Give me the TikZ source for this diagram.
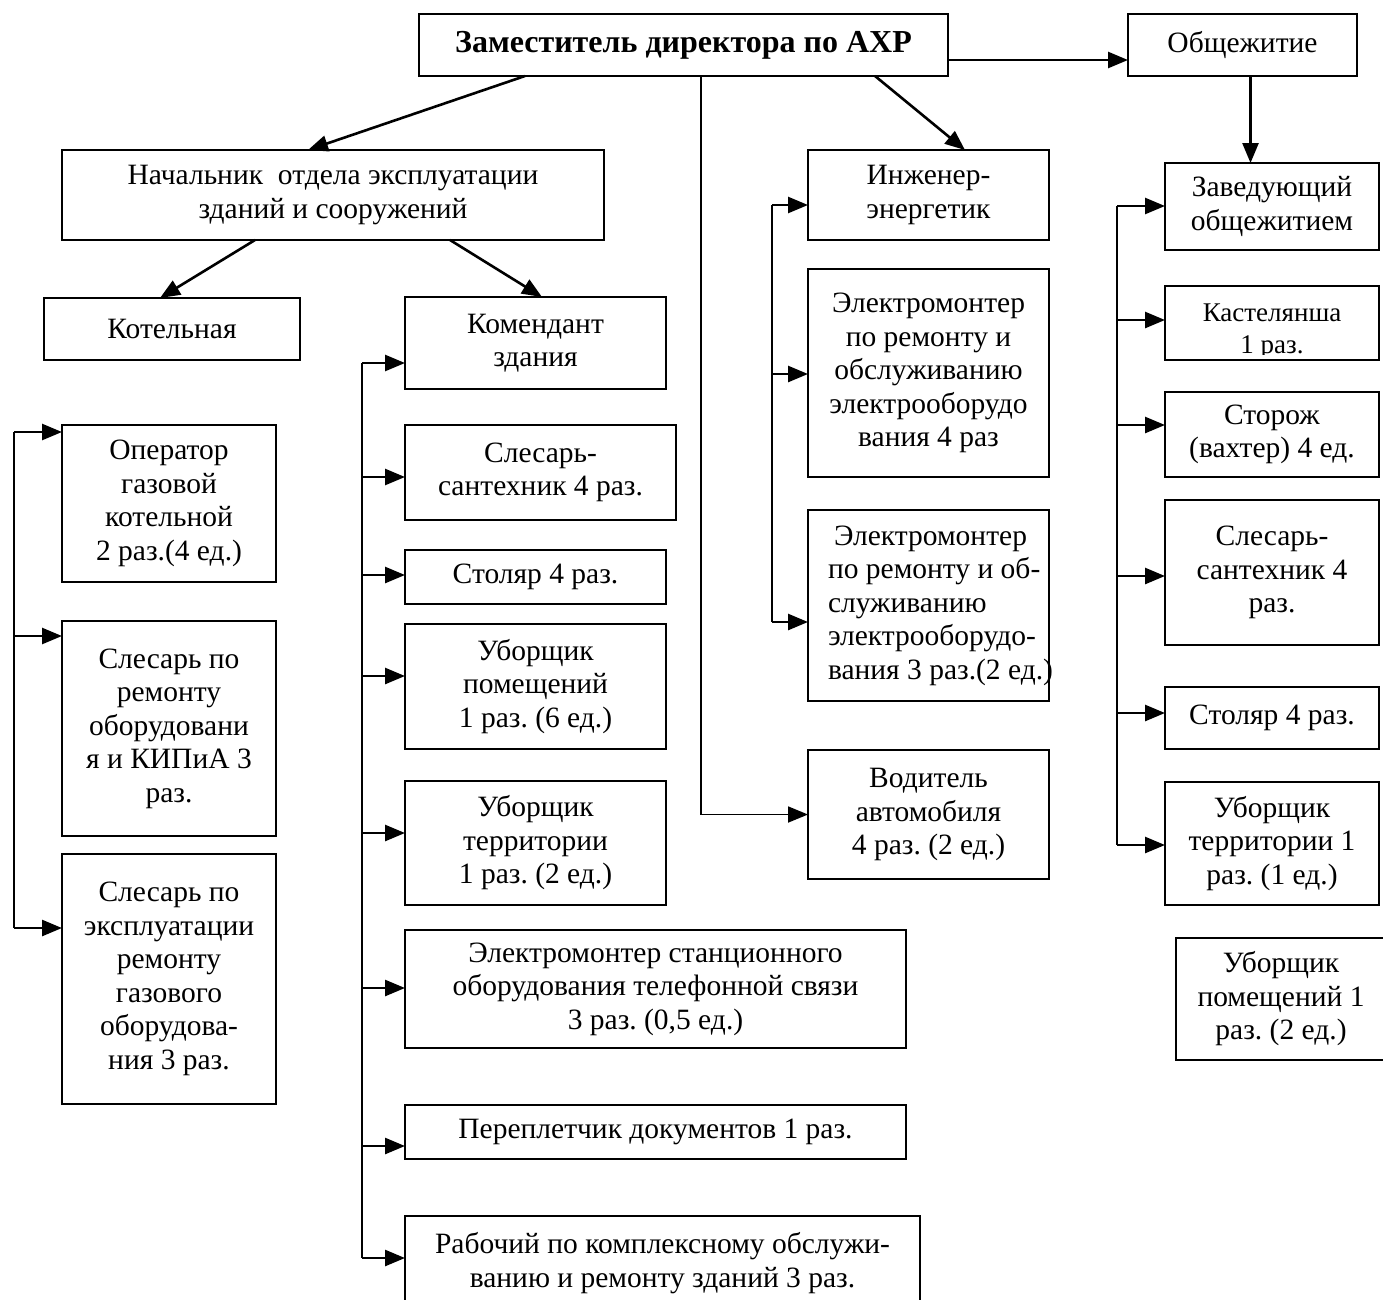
\documentclass[tikz,border=0pt]{standalone}
\usepackage{fontspec}
\setmainfont{Liberation Serif}
\usetikzlibrary{arrows.meta,calc}
\frenchspacing
\newcommand\bx[7][]{\node[box,anchor=north west,minimum width=#5pt-#3pt,minimum height=#6pt-#4pt,#1] (#2) at (#3,#4) {#7};}
\begin{document}
\begin{tikzpicture}[x=1pt,y=-1pt,
  box/.style={draw,line width=1.8pt,inner sep=0pt,outer sep=0pt,align=center,font=\fontsize{29.5}{33.5}\selectfont},
  arr/.style={line width=2.6pt,-{Triangle[length=20pt,width=16pt]}},
  ln/.style={line width=2pt}]
\fill[white] (0,0) rectangle (1383,1299);
\useasboundingbox (0,0) rectangle (1383,1299);
% boxes
\bx[font=\fontsize{32}{36}\selectfont\bfseries]{zam}{419}{14}{948}{76}{Заместитель директора по АХР}
\bx{obsh}{1128}{14}{1357}{76}{Общежитие}
\bx{nach}{62}{150}{604}{240}{Начальник\ \ отдела эксплуатации\\зданий и сооружений}
\bx{ing}{808}{150}{1049}{240}{Инженер-\\энергетик}
\bx{kot}{44}{298}{300}{360}{Котельная}
\bx{kom}{405}{297}{666}{389}{Комендант\\здания}
\bx{oper}{62}{425}{276}{582}{Оператор\\газовой\\котельной\\2 раз.(4 ед.)}
\bx{slrem}{62}{621}{276}{836}{Слесарь по\\ремонту\\оборудовани\\я и КИПиА 3\\раз.}
\bx{slexp}{62}{854}{276}{1104}{Слесарь по\\эксплуатации\\ремонту\\газового\\оборудова-\\ния 3 раз.}
\bx{santeh}{405}{425}{676}{520}{Слесарь-\\сантехник 4 раз.}
\bx{stol}{405}{550}{666}{604}{Столяр 4 раз.}
\bx{ubpom}{405}{624}{666}{749}{Уборщик\\помещений\\1 раз. (6 ед.)}
\bx{ubter}{405}{781}{666}{905}{Уборщик\\территории\\1 раз. (2 ед.)}
\bx{elst}{405}{930}{906}{1048}{Электромонтер станционного\\оборудования телефонной связи\\3 раз. (0,5 ед.)}
\bx{perepl}{405}{1105}{906}{1159}{Переплетчик документов 1 раз.}
\bx{rab}{405}{1216}{920}{1310}{Рабочий по комплексному обслужи-\\ванию и ремонту зданий 3 раз.}
\bx{el4}{808}{269}{1049}{477}{Электромонтер\\по ремонту и\\обслуживанию\\электрооборудо\\вания 4 раз}
\bx{el3}{808}{510}{1049}{701}{\hspace*{20pt}\begin{minipage}[c]{221pt}\raggedright\mbox{\hspace*{6pt}Электромонтер}\\\mbox{по ремонту и об-}\\\mbox{служиванию}\\\mbox{электрооборудо-}\\\mbox{вания 3 раз.(2 ед.)}\end{minipage}}
\bx{vod}{808}{750}{1049}{879}{Водитель\\автомобиля\\4 раз. (2 ед.)}
\bx{zav}{1165}{163}{1379}{250}{Заведующий\\общежитием}
\bx{kast}{1165}{286}{1379}{360}{}
\node[align=center,inner sep=0pt,font=\fontsize{27}{32}\selectfont] (kasttxt) at ($(kast.center)+(0,9)$) {Кастелянша\\1 раз.};
\fill[white] ($(kast.south west)+(2,-5)$) rectangle ($(kast.south east)+(-2,-1)$);
\fill[white] ($(kast.south west)+(-1,1)$) rectangle ($(kast.south east)+(1,14)$);
\bx{stor}{1165}{392}{1379}{477}{Сторож\\(вахтер) 4 ед.}
\bx{santeh2}{1165}{500}{1379}{645}{Слесарь-\\сантехник 4\\раз.}
\bx{stol2}{1165}{687}{1379}{749}{Столяр 4 раз.}
\bx{ubter2}{1165}{782}{1379}{905}{Уборщик\\территории 1\\раз. (1 ед.)}
\bx{ubpom2}{1176}{938}{1386}{1060}{Уборщик\\помещений 1\\раз. (2 ед.)}
% top connectors
\draw[arr] ($(zam.south east)+(0,-16)$) -- ($(obsh.south west)+(0,-16)$);
\coordinate (o1) at ($(obsh.south)+(8,0)$);
\draw[arr] (o1) -- (o1 |- zav.north);
\draw[arr] ($(zam.south west)+(106,0)$) -- ($(nach.north west)+(246,0)$);
\draw[arr] ($(zam.south west)+(456,0)$) -- ($(ing.north west)+(157,0)$);
\draw[arr] ($(nach.south west)+(193,0)$) -- ($(kot.north west)+(116,0)$);
\draw[arr] ($(nach.south west)+(388,0)$) -- ($(kom.north west)+(137,0)$);
\coordinate (v0) at ($(zam.south west)+(282,0)$);
\draw[line width=1.8pt,-{Triangle[length=20pt,width=16pt]}] (v0) |- (vod.west);
% left group
\coordinate (a1) at (14,432);
\coordinate (a2) at (14,636);
\coordinate (a3) at (14,928);
\draw[ln] (a1) -- (a3);
\draw[arr] (a1) -- (a1 -| oper.west);
\draw[arr] (a2) -- (a2 -| slrem.west);
\draw[arr] (a3) -- (a3 -| slexp.west);
% komendant group
\coordinate (b1) at (362,363);
\coordinate (b2) at (362,477);
\coordinate (b3) at (362,575);
\coordinate (b4) at (362,676);
\coordinate (b5) at (362,833);
\coordinate (b6) at (362,988);
\coordinate (b7) at (362,1146);
\coordinate (b8) at (362,1258);
\draw[ln] (b1) -- (b8);
\draw[arr] (b1) -- (b1 -| kom.west);
\draw[arr] (b2) -- (b2 -| santeh.west);
\draw[arr] (b3) -- (b3 -| stol.west);
\draw[arr] (b4) -- (b4 -| ubpom.west);
\draw[arr] (b5) -- (b5 -| ubter.west);
\draw[arr] (b6) -- (b6 -| elst.west);
\draw[arr] (b7) -- (b7 -| perepl.west);
\draw[arr] (b8) -- (b8 -| rab.west);
% engineer group
\coordinate (c1) at (772,205);
\coordinate (c2) at (772,374);
\coordinate (c3) at (772,622);
\draw[ln] (c1) -- (c3);
\draw[arr] (c1) -- (c1 -| ing.west);
\draw[arr] (c2) -- (c2 -| el4.west);
\draw[arr] (c3) -- (c3 -| el3.west);
% dormitory group
\coordinate (d1) at (1117,206);
\coordinate (d2) at (1117,320);
\coordinate (d3) at (1117,425);
\coordinate (d4) at (1117,576);
\coordinate (d5) at (1117,713);
\coordinate (d6) at (1117,845);
\draw[ln] (d1) -- (d6);
\draw[arr] (d1) -- (d1 -| zav.west);
\draw[arr] (d2) -- (d2 -| kast.west);
\draw[arr] (d3) -- (d3 -| stor.west);
\draw[arr] (d4) -- (d4 -| santeh2.west);
\draw[arr] (d5) -- (d5 -| stol2.west);
\draw[arr] (d6) -- (d6 -| ubter2.west);
\end{tikzpicture}
\end{document}
